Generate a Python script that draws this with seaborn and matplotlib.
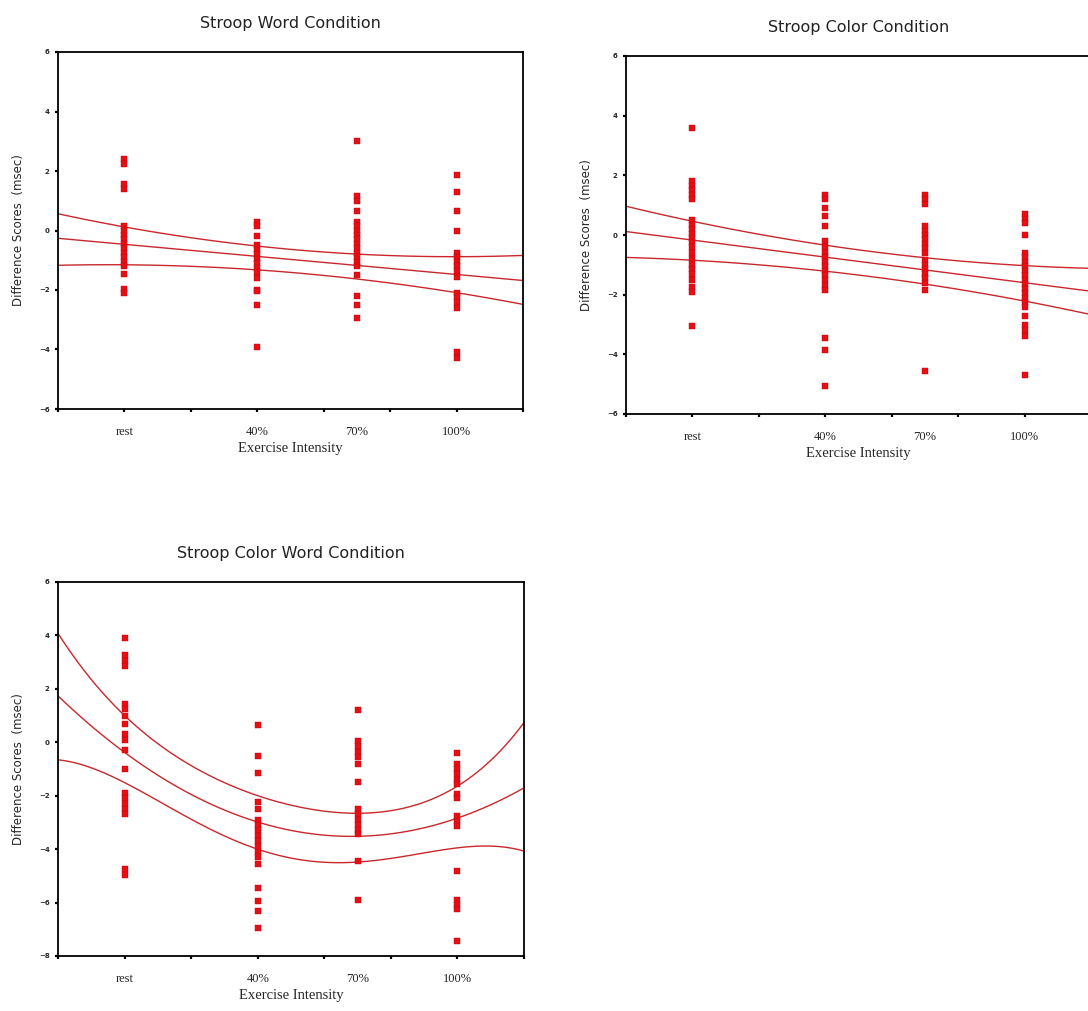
import matplotlib
matplotlib.use("Agg")
import matplotlib.pyplot as plt
import seaborn as sns
import pandas as pd

# ---------------- data ----------------
intensity_values = [0, 40, 70, 100]
intensity_labels = ["rest", "40%", "70%", "100%"]
titles = ["Stroop Word Condition", "Stroop Color Condition", "Stroop Color Word Condition"]

# Stroop Word condition: difference scores per intensity
word_rest = [2.4, 2.25, 1.55, 1.4, 0.15, 0.0, -0.15, -0.3, -0.45, -0.6, -0.75, -0.9, -1.05, -1.2, -1.45, -1.95, -2.1]
word_40 = [0.3, 0.15, -0.2, -0.5, -0.65, -0.8, -0.95, -1.1, -1.25, -1.4, -1.6, -2.0, -2.05, -2.5, -3.9]
word_70 = [3.0, 1.15, 1.0, 0.65, 0.3, 0.15, 0.0, -0.15, -0.3, -0.45, -0.6, -0.75, -0.9, -1.05, -1.2, -1.5, -2.2, -2.5, -2.95]
word_100 = [1.85, 1.3, 0.65, 0.0, -0.75, -0.9, -1.05, -1.2, -1.35, -1.55, -2.1, -2.25, -2.4, -2.6, -4.1, -4.3]

# Stroop Color condition
color_rest = [3.6, 1.8, 1.65, 1.5, 1.35, 1.2, 0.5, 0.35, 0.2, 0.05, -0.1, -0.25, -0.4, -0.6, -0.8, -1.0, -1.15, -1.3, -1.5, -1.75, -1.9, -3.05]
color_40 = [1.35, 1.2, 0.9, 0.65, 0.3, -0.2, -0.4, -0.6, -0.75, -0.9, -1.05, -1.2, -1.35, -1.5, -1.7, -1.85, -3.45, -3.85, -5.05]
color_70 = [1.35, 1.2, 1.05, 0.3, 0.15, 0.0, -0.15, -0.3, -0.45, -0.6, -0.85, -1.0, -1.15, -1.3, -1.45, -1.6, -1.85, -4.55]
color_100 = [0.7, 0.55, 0.4, 0.0, -0.6, -0.75, -0.9, -1.05, -1.2, -1.35, -1.5, -1.65, -1.8, -1.95, -2.1, -2.25, -2.4, -2.7, -3.0, -3.2, -3.4, -4.7]

# Stroop Color Word condition
cw_rest = [3.9, 3.25, 3.05, 2.85, 1.45, 1.25, 1.0, 0.7, 0.3, 0.1, -0.3, -1.0, -1.9, -2.1, -2.3, -2.5, -2.7, -4.75, -4.95]
cw_40 = [0.65, -0.5, -1.15, -2.25, -2.5, -2.9, -3.1, -3.3, -3.5, -3.7, -3.9, -4.1, -4.3, -4.55, -5.45, -5.95, -6.3, -6.95]
cw_70 = [1.2, 0.05, -0.15, -0.35, -0.55, -0.8, -1.5, -2.5, -2.7, -2.9, -3.1, -3.3, -3.45, -4.45, -5.9]
cw_100 = [-0.4, -0.8, -1.0, -1.2, -1.4, -1.55, -1.95, -2.1, -2.75, -2.95, -3.15, -4.8, -5.9, -6.1, -6.25, -7.45]

# fitted line and confidence limits
line_x = [-20, 0, 40, 70, 100, 120]
word_upper = [0.57, 0.12, -0.55, -0.78, -0.85, -0.86]
word_mean = [-0.26, -0.46, -0.88, -1.18, -1.47, -1.68]
word_lower = [-1.16, -1.18, -1.29, -1.63, -2.13, -2.46]

color_upper = [0.96, 0.46, -0.32, -0.77, -1.05, -1.1]
color_mean = [0.12, -0.16, -0.77, -1.16, -1.6, -1.88]
color_lower = [-0.77, -0.82, -1.21, -1.66, -2.22, -2.66]

cw_line_x = [-20, 0, 20, 40, 55, 70, 85, 100, 120]
cw_upper = [4.06, 1.06, -0.94, -2.0, -2.44, -2.69, -2.38, -1.69, 0.75]
cw_mean = [1.69, -0.44, -1.69, -3.06, -3.44, -3.56, -3.44, -2.75, -1.69]
cw_lower = [-0.63, -1.63, -2.69, -4.06, -4.56, -4.44, -4.13, -4.04, -4.06]

# ---------------- styling ----------------
sns.set_style("white")
plt.rcParams["font.family"] = ["DejaVu Sans"]

POINT = "#E60F14"
LINE = "#C8282C"

W, H = 1088, 1011
fig = plt.figure(figsize=(W / 100, H / 100), dpi=100)


def frac(left, top, right, bottom):
    return [left / W, 1 - bottom / H, (right - left) / W, (bottom - top) / H]


panels = [
    dict(rect=frac(58, 52, 523, 409), groups=[word_rest, word_40, word_70, word_100],
         lx=line_x, lines=[(word_upper, 2), (word_mean, 1), (word_lower, 2)], ylim=(-6, 6), title=titles[0]),
    dict(rect=frac(626, 56, 1091, 414), groups=[color_rest, color_40, color_70, color_100],
         lx=line_x, lines=[(color_upper, 2), (color_mean, 1), (color_lower, 2)], ylim=(-6, 6), title=titles[1]),
    dict(rect=frac(58, 582, 524, 956), groups=[cw_rest, cw_40, cw_70, cw_100],
         lx=cw_line_x, lines=[(cw_upper, 4), (cw_mean, 2), (cw_lower, 4)], ylim=(-8, 6), title=titles[2]),
]

for p in panels:
    ax = fig.add_axes(p["rect"])
    xs, ys = [], []
    for xv, grp in zip(intensity_values, p["groups"]):
        xs += [xv] * len(grp)
        ys += grp
    df = pd.DataFrame({"x": xs, "y": ys})

    for vals, order in p["lines"]:
        sns.regplot(x=p["lx"], y=vals, order=order, scatter=False, ci=None, truncate=True,
                    line_kws=dict(color=LINE, lw=1.0), ax=ax)

    sns.scatterplot(data=df, x="x", y="y", marker="s", s=18, color=POINT,
                    edgecolor="#C80010", linewidth=0.3, ax=ax, zorder=3)

    ax.set_xlim(-20, 120)
    ax.set_ylim(*p["ylim"])
    ax.xaxis.remove_overlapping_locs = False
    ax.set_xticks(range(-20, 121, 20))
    ax.set_xticklabels([])
    ax.set_xticks(intensity_values, labels=intensity_labels, minor=True)
    ax.tick_params(axis="x", which="major", direction="out", length=2, width=1.6, color="black", bottom=True)
    ax.tick_params(axis="x", which="minor", length=0, pad=12, labelsize=9, bottom=True)
    for lab in ax.get_xticklabels(minor=True):
        lab.set_family("Liberation Serif")
    ax.set_yticks(range(p["ylim"][0], p["ylim"][1] + 1, 2))
    ax.tick_params(axis="y", direction="out", length=2, width=1.6, color="black", left=True,
                   labelsize=5, pad=4)
    for lab in ax.get_yticklabels():
        lab.set_fontweight("bold")

    for sp in ax.spines.values():
        sp.set_visible(True)
        sp.set_color("black")
        sp.set_linewidth(1.3)

    ax.set_xlabel("Exercise Intensity", family="Liberation Serif", fontsize=10.5)
    ax.set_ylabel("Difference Scores  (msec)", fontsize=8.5)
    hpx = (p["rect"][3]) * H
    ax.xaxis.set_label_coords(0.5, -33 / hpx)
    ax.yaxis.set_label_coords(-33 / 465, 0.5)
    ax.set_title(p["title"], fontsize=11.5, pad=17, color="#222222")

fig.savefig("out.png", dpi=100)
